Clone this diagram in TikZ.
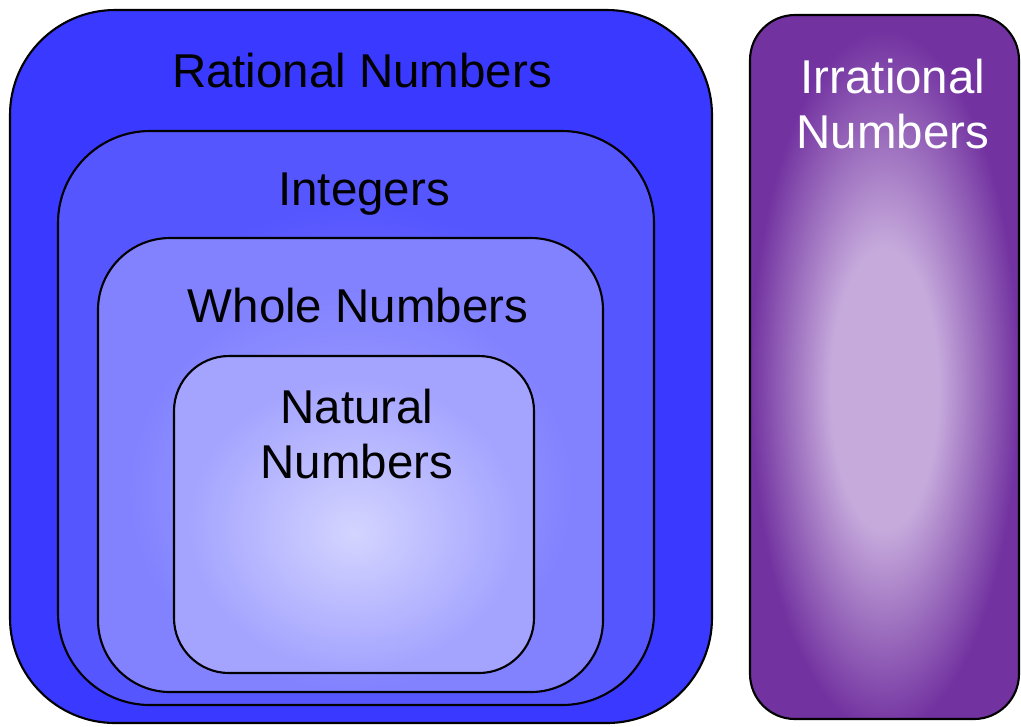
\documentclass[tikz,border=0pt]{standalone}
\usepackage{fontspec}
\setmainfont{Liberation Sans}
\usepackage{tikz}

\definecolor{ratblue}{RGB}{57,57,255}
\definecolor{intout}{RGB}{86,86,255}
\definecolor{intin}{RGB}{124,124,255}
\definecolor{wholeout}{RGB}{130,130,255}
\definecolor{wholein}{RGB}{172,172,255}
\definecolor{natout}{RGB}{164,164,255}
\definecolor{natin}{RGB}{212,212,255}
\definecolor{irrout}{RGB}{114,50,160}
\definecolor{irrin}{RGB}{198,170,220}

% box edge = 25bp
\pgfdeclareradialshading{intshade}{\pgfpoint{0bp}{-4bp}}{color(0bp)=(intin); color(21bp)=(intout); color(50bp)=(intout)}
\pgfdeclareradialshading{wholeshade}{\pgfpoint{0bp}{-5bp}}{color(0bp)=(wholein); color(22bp)=(wholeout); color(50bp)=(wholeout)}
\pgfdeclareradialshading{natshade}{\pgfpoint{0bp}{-3bp}}{color(0bp)=(natin); color(23bp)=(natout); color(50bp)=(natout)}
\pgfdeclareradialshading{irrshade}{\pgfpoint{0bp}{-2bp}}{color(0bp)=(irrin); color(10bp)=(irrin); color(25bp)=(irrout); color(50bp)=(irrout)}

\begin{document}
\begin{tikzpicture}[x=0.01cm,y=-0.01cm,
  setbox/.style={draw=black, line width=0.6pt},
  setlabel/.style={font=\fontsize{13.5}{15.6}\selectfont, align=center, inner sep=0pt, anchor=base}]
\useasboundingbox (0,0) rectangle (1021,726);

% rational numbers
\draw[setbox, fill=ratblue, rounded corners=1.05cm] (10,10) rectangle (712,723);
\node[setlabel] (rational) at (362,87) {Rational Numbers};

% integers
\draw[setbox, shading=intshade, rounded corners=0.92cm] (58,131) rectangle (654,705);
\node[setlabel] (integers) at (364,205) {Integers};

% whole numbers
\draw[setbox, shading=wholeshade, rounded corners=0.72cm] (98,238) rectangle (603,692);
\node[setlabel] (whole) at (358,322) {Whole Numbers};

% natural numbers (base = last line)
\draw[setbox, shading=natshade, rounded corners=0.55cm] (174,356) rectangle (534,673);
\node[setlabel] (natural) at (357,478) {Natural\\Numbers};

% irrational numbers
\draw[setbox, shading=irrshade, rounded corners=0.45cm] (750,15) rectangle (1019,719);
\node[setlabel, text=white] (irrational) at (893,148) {Irrational\\Numbers};

\end{tikzpicture}
\end{document}
